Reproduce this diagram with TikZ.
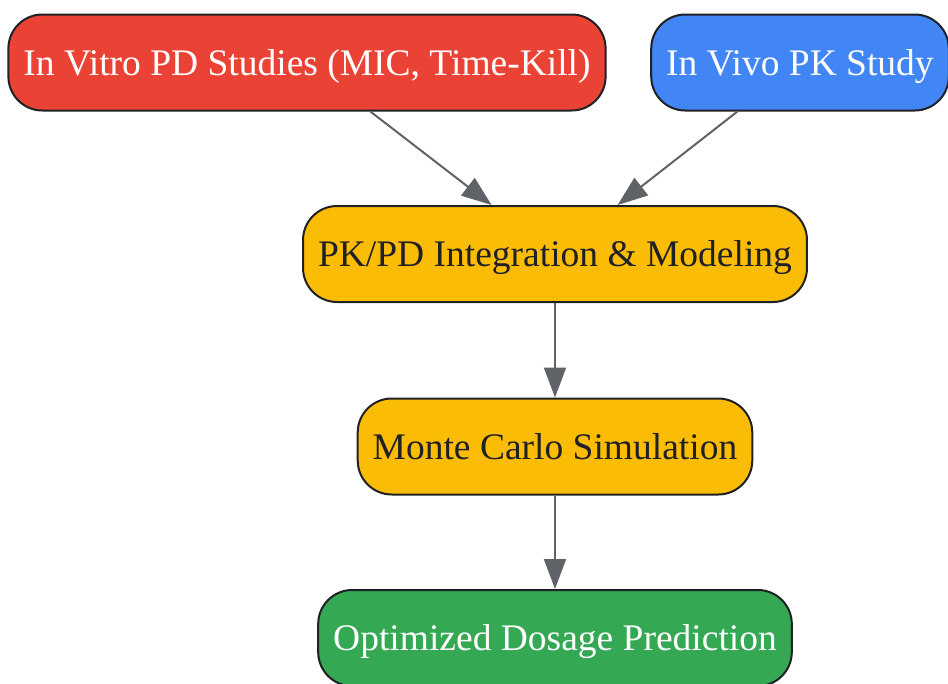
\documentclass[tikz,border=0pt]{standalone}
\usepackage{fontspec}
\setmainfont{Liberation Serif}
\usepackage{tikz}
\usetikzlibrary{positioning}
\usetikzlibrary{arrows.meta}
\definecolor{gred}{HTML}{EA4335}
\definecolor{gblue}{HTML}{4285F4}
\definecolor{gyellow}{HTML}{FBBC05}
\definecolor{ggreen}{HTML}{34A853}
\definecolor{gedge}{HTML}{5F6368}
\definecolor{gdark}{HTML}{202124}
\tikzset{box/.style={draw=gdark, line width=2pt, rounded corners=34pt, minimum height=96pt, inner xsep=15pt, text height=30pt, text depth=5pt, font=\fontsize{37.5}{42}\selectfont}}
\tikzset{arr/.style={-{Triangle[length=30pt,width=22pt]}, draw=gedge, line width=2pt}}

\begin{document}
\begin{tikzpicture}[x=1pt,y=-1pt]
\useasboundingbox (0,0) rectangle (948,683);
\node[box, fill=gred, text=white] (vitro) at (307,62.5) {In Vitro PD Studies (MIC, Time-Kill)};
\node[box, fill=gblue, text=white] (vivo) at (800,62.5) {In Vivo PK Study};
\node[box, fill=gyellow, text=gdark] (pkpd) at (555,254) {PK/PD Integration \& Modeling};
\node[box, fill=gyellow, text=gdark] (mc) at (555,446.5) {Monte Carlo Simulation};
\node[box, fill=ggreen, text=white] (dose) at (555,638) {Optimized Dosage Prediction};
\draw[arr] (vitro) -- (pkpd);
\draw[arr] (vivo) -- (pkpd);
\draw[arr] (pkpd) -- (mc);
\draw[arr] (mc) -- (dose);
\end{tikzpicture}
\end{document}
